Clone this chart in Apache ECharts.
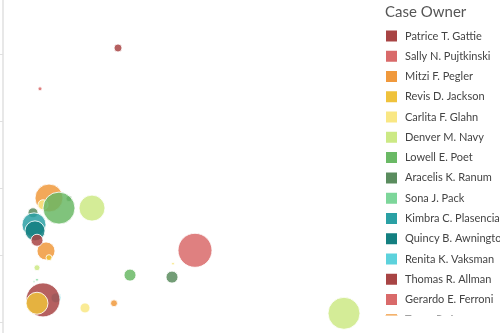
<!DOCTYPE html>
<html>
<head>
<meta charset="utf-8">
<script src="https://cdn.jsdelivr.net/npm/echarts@6/dist/echarts.min.js"></script>
<style>
  html, body { margin: 0; padding: 0; background: #fff; }
  #chart { width: 500px; height: 333px; }
</style>
</head>
<body>
<div id="chart"></div>
<script>
// Case owners, in legend order
const owners = [
  'Patrice T. Gattie', 'Sally N. Pujtkinski', 'Mitzi F. Pegler', 'Revis D. Jackson',
  'Carlita F. Glahn', 'Denver M. Navy', 'Lowell E. Poet', 'Aracelis K. Ranum',
  'Sona J. Pack', 'Kimbra C. Plasencia', 'Quincy B. Awnington', 'Renita K. Vaksman',
  'Thomas R. Allman', 'Gerardo E. Ferroni', 'Tyson R. Amara'
];

const ownerColors = [
  '#a84444', '#d96a6a', '#f0993c', '#efc23c', '#f9e784', '#cce985',
  '#6ab965', '#5a8c5e', '#7dd69a', '#2aa0a4', '#137f80', '#5dd2dc',
  '#a84444', '#d96a6a', '#f0993c'
];

// [x, y, cases] per owner
const patrice  = [[10, 1.33, 289], [28.75, 5.09, 16]];
const sally    = [[48, 2.07, 289]];
const mitzi    = [[11.5, 2.85, 196], [10.75, 2.06, 81]];
const revis    = [[8.5, 1.28, 121], [11.5, 1.96, 9]];
const carlita  = [[10, 2.75, 25], [20.5, 1.21, 25], [42.5, 1.87, 2]];
const denver   = [[22.25, 2.70, 169], [85.25, 1.13, 256], [8.5, 1.81, 9]];
const lowell   = [[14, 2.70, 256], [31.75, 1.70, 36]];
const aracelis = [[7.5, 2.63, 25], [42.25, 1.67, 36], [16.5, 2.84, 9]];
const sona     = [[8.5, 1.63, 2], [7.75, 1.60, 1]];
const kimbra   = [[7.75, 2.45, 144]];
const quincy   = [[8, 2.36, 100]];
const renita   = [[13.25, 1.36, 25]];
const thomas   = [[8.5, 2.22, 36]];
const gerardo  = [[9.25, 4.48, 4]];
const tyson    = [[27.75, 1.28, 12]];

const ownerData = {
  'Patrice T. Gattie': patrice, 'Sally N. Pujtkinski': sally, 'Mitzi F. Pegler': mitzi,
  'Revis D. Jackson': revis, 'Carlita F. Glahn': carlita, 'Denver M. Navy': denver,
  'Lowell E. Poet': lowell, 'Aracelis K. Ranum': aracelis, 'Sona J. Pack': sona,
  'Kimbra C. Plasencia': kimbra, 'Quincy B. Awnington': quincy, 'Renita K. Vaksman': renita,
  'Thomas R. Allman': thomas, 'Gerardo E. Ferroni': gerardo, 'Tyson R. Amara': tyson
};

// drawing order (later series sit on top)
const drawOrder = [
  'Renita K. Vaksman', 'Aracelis K. Ranum', 'Patrice T. Gattie', 'Mitzi F. Pegler',
  'Carlita F. Glahn', 'Kimbra C. Plasencia', 'Quincy B. Awnington', 'Thomas R. Allman',
  'Revis D. Jackson', 'Lowell E. Poet', 'Denver M. Navy', 'Sona J. Pack',
  'Sally N. Pujtkinski', 'Gerardo E. Ferroni', 'Tyson R. Amara'
];

const FONT = 'Lato, "Open Sans", sans-serif';

const series = drawOrder.map(name => ({
  name: name,
  type: 'scatter',
  data: ownerData[name],
  symbolSize: d => Math.sqrt(d[2]) * 2,
  itemStyle: {
    color: ownerColors[owners.indexOf(name)],
    opacity: 0.85,
    borderColor: '#fff',
    borderWidth: 1
  },
  emphasis: { disabled: true }
}));

const chart = echarts.init(document.getElementById('chart'), null, { renderer: 'canvas' });
chart.setOption({
  animation: false,
  title: {
    text: 'Case Owner',
    left: 380,
    top: 0,
    textStyle: { fontFamily: FONT, fontSize: 15, fontWeight: 'normal', color: '#555' }
  },
  legend: {
    type: 'scroll',
    orient: 'vertical',
    left: 384,
    top: 28.5,
    height: 288,
    padding: 0,
    data: owners,
    icon: 'rect',
    itemWidth: 13,
    itemHeight: 13,
    itemGap: 5.27,
    itemStyle: { opacity: 1 },
    pageIconSize: 0,
    pageButtonGap: 0,
    pageButtonItemGap: 0,
    pageFormatter: () => '',
    pageTextStyle: { color: 'rgba(0,0,0,0)', fontSize: 1 },
    textStyle: {
      fontFamily: FONT, fontSize: 11, lineHeight: 13, color: '#444',
      padding: [0, 0, 0, 2]
    }
  },
  grid: {
    left: 3, width: 400, top: -13, height: 402,
    containLabel: false, outerBoundsMode: 'none'
  },
  xAxis: {
    type: 'value', min: 0, max: 100, show: false
  },
  yAxis: {
    type: 'value', min: 0, max: 6, interval: 1,
    axisLine: { show: true, lineStyle: { color: '#e0e0e0', width: 1.5 } },
    axisTick: { show: true, length: 5, lineStyle: { color: '#e0e0e0' } },
    axisLabel: { show: false },
    splitLine: { show: false }
  },
  series: series
});
</script>
</body>
</html>
